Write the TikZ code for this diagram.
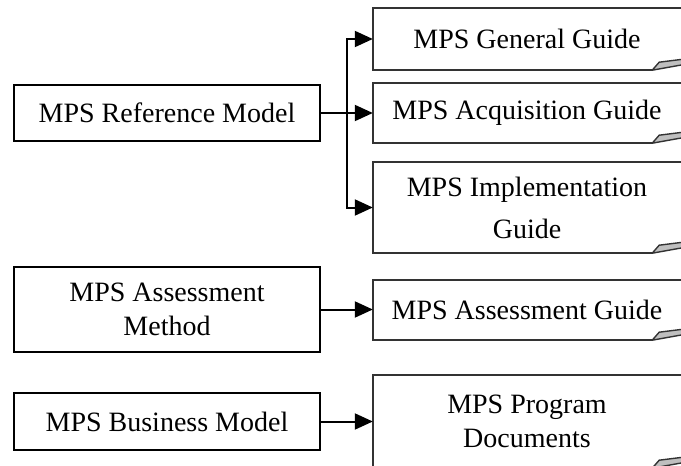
\documentclass[tikz,border=0pt]{standalone}
\usepackage{fontspec}
\setmainfont{Liberation Serif}
\usetikzlibrary{arrows.meta}
\begin{document}
\begin{tikzpicture}[x=1pt,y=-1pt,
  txt/.style={font=\fontsize{28}{34}\selectfont, align=center, inner sep=0pt},
  lbox/.style={txt, draw=black, line width=2pt, minimum width=306pt},
  rbox/.style={txt, minimum width=308pt},
  redge/.style={draw=black!80, line width=2pt},
  arr/.style={line width=2pt, -{Triangle[length=18pt,width=16pt]}}
]
\useasboundingbox (0,0) rectangle (681,466);
\clip (0,0) rectangle (681,466);

% left boxes
\node[lbox, minimum height=56pt] (ref) at (167,113) {MPS Reference Model};
\node[lbox, minimum height=85pt] (meth) at (167,309.5) {MPS Assessment\\Method};
\node[lbox, minimum height=57pt] (bus) at (167,421.5) {MPS Business Model};

% right boxes (documents)
\node[rbox, minimum height=62pt] (gen) at (527,39) {MPS General Guide};
\node[rbox, minimum height=60pt] (acq) at (527,113) {MPS Acquisition Guide};
\node[rbox, minimum height=91pt] (impl) at (527,207.5) {MPS Implementation\\[8pt]Guide};
\node[rbox, minimum height=60pt] (asg) at (527,310) {MPS Assessment Guide};
\node[rbox, minimum height=93pt] (prog) at (527,421.5) {MPS Program\\Documents};

\foreach \n in {gen,acq,impl,asg,prog}{
  \draw[redge] ([xshift=20pt]\n.north east) -- (\n.north west) -- (\n.south west)
     -- ([xshift=-29pt]\n.south east);
  \draw[redge, line width=1.4pt, fill=black!25, line join=round]
     ([xshift=-29pt]\n.south east) -- ++(7,-8) -- ++(32,-4) -- ++(0,5) -- cycle;
}

% connectors
\coordinate (br) at (347,113);
\draw[arr] (ref.east) -- (acq.west);
\draw[arr] (br) |- (gen.west);
\draw[arr] (br) |- (impl.west);
\draw[arr] (meth.east) -- (meth.east -| asg.west);
\draw[arr] (bus.east) -- (bus.east -| prog.west);
\end{tikzpicture}
\end{document}
